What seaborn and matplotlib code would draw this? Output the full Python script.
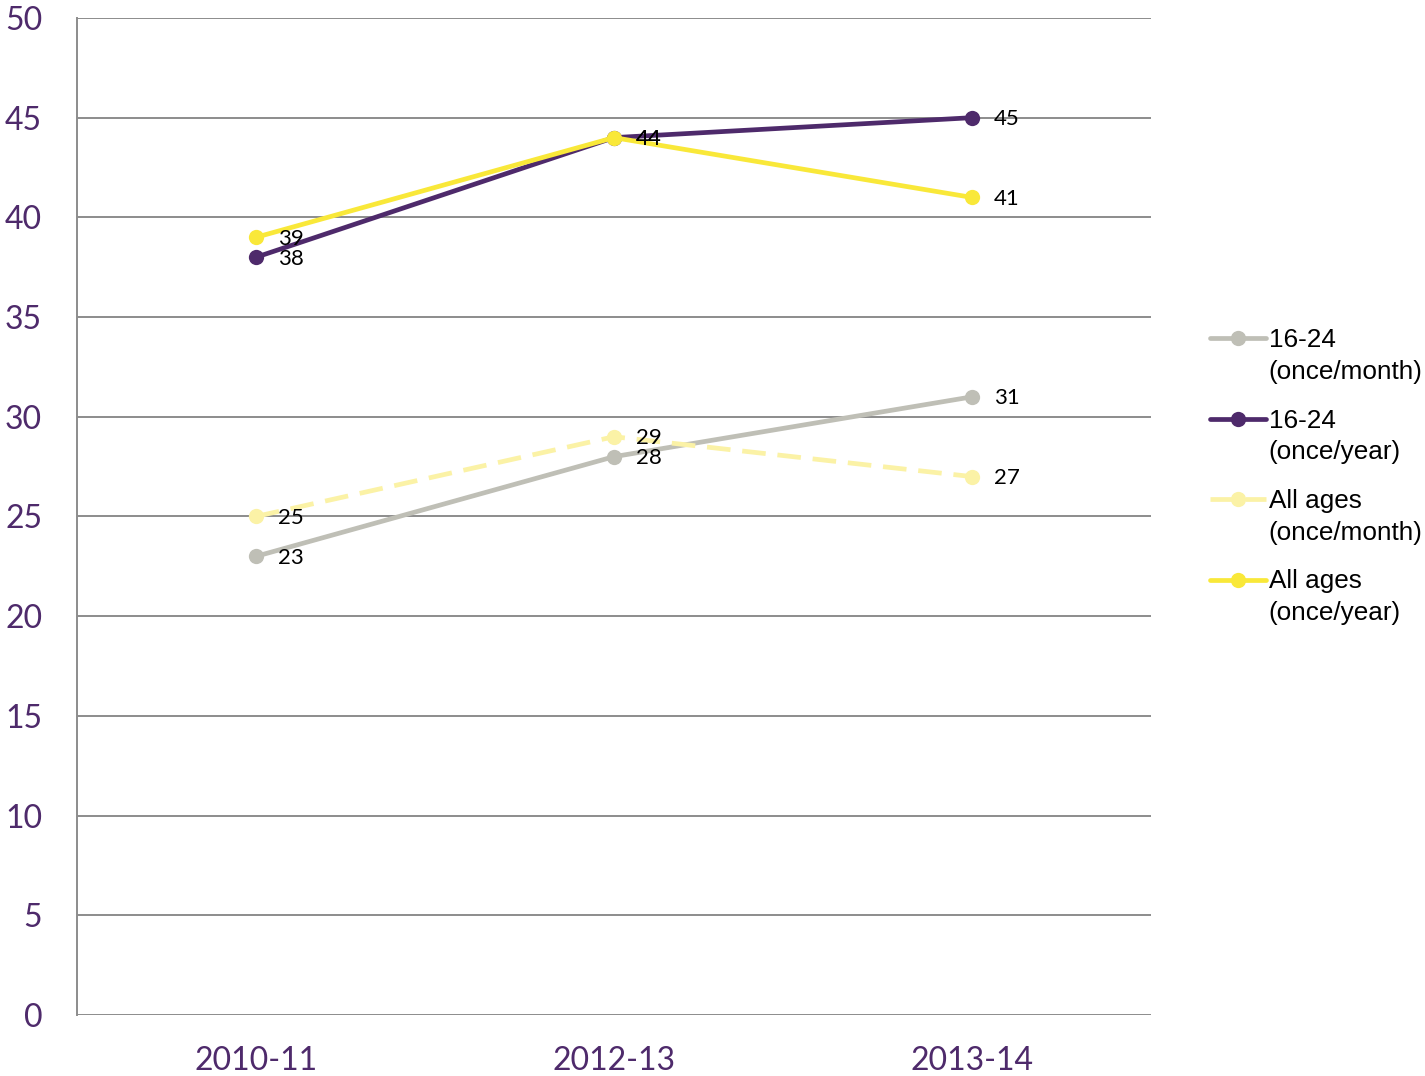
import matplotlib
matplotlib.use("Agg")
import matplotlib.pyplot as plt
import seaborn as sns
import pandas as pd

# data
years = ["2010-11", "2012-13", "2013-14"]
young_month = [23, 28, 31]
young_year = [38, 44, 45]
all_month = [25, 29, 27]
all_year = [39, 44, 41]

series_names = ["16-24\n(once/month)", "16-24\n(once/year)",
                "All ages\n(once/month)", "All ages\n(once/year)"]
series_vals = [young_month, young_year, all_month, all_year]
colors = ["#BFBFB6", "#4E2A6B", "#FBF2A6", "#F9E839"]
dashed = [False, False, True, False]

sns.set_theme(style="white")
plt.rcParams['font.family'] = ['Lato', 'DejaVu Sans']

fig = plt.figure(figsize=(14.25, 10.76), dpi=100)
ax = fig.add_axes([0.054, 0.0567, 0.7537, 0.9266])

for name, vals, col, dsh in zip(series_names, series_vals, colors, dashed):
    df = pd.DataFrame({"year": years, "value": vals})
    sns.lineplot(data=df, x="year", y="value", ax=ax, color=col, linewidth=3.4,
                 marker="o", markersize=11, markeredgewidth=0, label=name,
                 linestyle=(0, (5, 2.5)) if dsh else "-", sort=False)
    for i, v in enumerate(vals):
        ax.annotate(str(v), (i, v), xytext=(16, -1), textcoords="offset points",
                    va="center", ha="left", fontsize=16, color="black")

ax.set_xlim(-0.5, 2.5)
ax.set_ylim(0, 50)
ax.set_yticks(range(0, 51, 5))
ax.yaxis.grid(True, color="#8C8C8C", linewidth=1.4)
ax.xaxis.grid(False)
ax.set_axisbelow(True)
for s in ["top", "right", "bottom"]:
    ax.spines[s].set_visible(False)
ax.spines["left"].set_color("#8C8C8C")
ax.spines["left"].set_linewidth(1.4)
ax.tick_params(axis="both", length=0, labelsize=23, labelcolor="#4E2A6B")
ax.tick_params(axis="y", pad=25)
ax.tick_params(axis="x", pad=22)
ax.set_xlabel("")
ax.set_ylabel("")

leg = ax.legend(loc="center left", bbox_to_anchor=(1.033, 0.54), frameon=False,
                prop={"family": "Liberation Sans", "size": 18.8},
                handlelength=2.15, handletextpad=0.1, labelspacing=0.95)
for t in leg.get_texts():
    t.set_color("black")
    t.set_linespacing(1.4)
# put each handle level with the first line of its label
for h in leg.legend_handles:
    h.set_ydata([y + 13 for y in h.get_ydata()])

fig.savefig("out.png", dpi=100)
